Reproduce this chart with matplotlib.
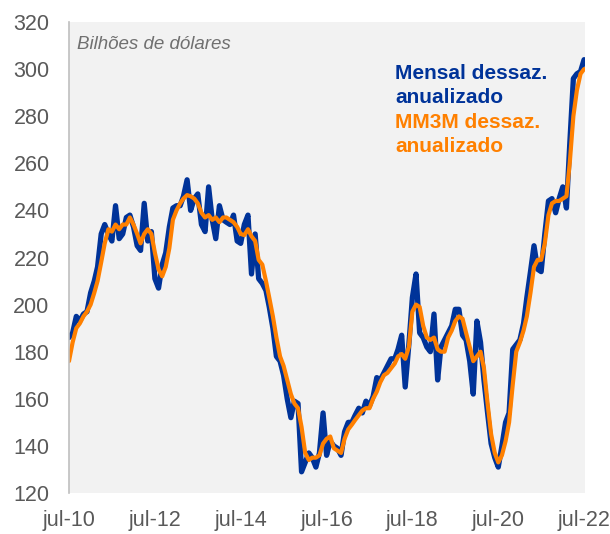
import numpy as np
import pandas as pd
import matplotlib
matplotlib.use("Agg")
import matplotlib.pyplot as plt

plt.rcParams['font.family'] = ['Liberation Sans', 'DejaVu Sans']

# monthly data, jul-2010 .. jul-2022 (billions of dollars, seasonally adjusted, annualized)
mensal = [
    186, 188, 195, 193, 196, 197, 205, 210, 216, 230, 234, 230,
    227, 242, 228, 230, 237, 238, 233, 225, 223, 243, 227, 231,
    211, 207, 217, 222, 233, 241, 242, 242, 246, 253, 240, 245,
    247, 234, 231, 250, 236, 228, 242, 236, 235, 234, 238, 227,
    226, 234, 238, 213, 230, 211, 209, 206, 199, 190, 178, 176,
    170, 160, 152, 159, 158, 129, 133, 137, 135, 131, 137, 154,
    136, 142, 140, 139, 136, 146, 150, 150, 153, 156, 154, 159,
    157, 161, 169, 168, 171, 174, 177, 177, 181, 187, 165, 183,
    203, 213, 188, 186, 182, 180, 196, 168, 182, 185, 188, 191,
    198, 198, 187, 185, 176, 162, 193, 184, 168, 154, 141, 135,
    131, 140, 150, 154, 181, 183, 185, 192, 203, 214, 225, 215,
    214, 230, 244, 245, 239, 245, 250, 241, 268, 296, 298, 299,
    304,
]
mm3m = [
    176, 184, 190, 192, 195, 197, 200, 205, 210, 218, 226, 232,
    231, 234, 232, 234, 234, 237, 234, 230, 226, 230, 232, 230,
    222, 215, 212, 216, 224, 236, 240, 243, 245, 246.5, 246, 245,
    243, 239, 237, 238, 236, 237, 235, 237, 237, 236, 235, 233,
    230, 229.5, 232, 229, 227, 219, 217, 210, 203, 195, 186, 178,
    174, 168, 162, 158, 156, 148, 137, 134, 135, 135, 136, 141,
    143, 144, 139, 138, 137, 143, 147, 149, 151, 153, 155, 156,
    156, 160, 163, 167, 170, 171, 173, 175, 178, 179, 177, 182,
    197, 200, 199, 191, 186, 185, 186, 181, 180, 180, 186, 189,
    193, 195, 194, 188, 182, 176, 178, 180, 173, 158, 145, 137,
    133, 136, 142, 150, 166, 180, 184, 189, 195, 205, 216, 219,
    219, 226, 238, 243, 244, 244, 245, 246, 260, 280, 291, 298,
    300,
]
months = pd.date_range('2010-07-01', periods=len(mensal), freq='MS')
tick_dates = pd.to_datetime(['2010-07-01', '2012-07-01', '2014-07-01', '2016-07-01',
                             '2018-07-01', '2020-07-01', '2022-07-01'])
tick_labels = ['jul-10', 'jul-12', 'jul-14', 'jul-16', 'jul-18', 'jul-20', 'jul-22']

blue = '#003399'
orange = '#FF8000'
grey_txt = '#595959'

fig = plt.figure(figsize=(6.10, 5.34), dpi=100)
ax = fig.add_axes([69 / 610, 1 - 493 / 534, 516 / 610, 471 / 534])
ax.set_facecolor('#F2F2F2')

ax.plot(months, mensal, color=blue, lw=3.8, solid_joinstyle='round', solid_capstyle='round')
ax.plot(months, mm3m, color=orange, lw=3.0, solid_joinstyle='round', solid_capstyle='round')

ax.set_xlim(months[0], months[-1] + pd.Timedelta(days=8))
ax.set_ylim(120, 320)
ax.set_yticks(np.arange(120, 321, 20))
ax.set_xticks(tick_dates)
ax.set_xticklabels(tick_labels)
ax.tick_params(axis='both', length=0, labelsize=15.5, labelcolor=grey_txt)
ax.tick_params(axis='y', pad=14)
ax.tick_params(axis='x', pad=12)

for side in ['top', 'right', 'bottom']:
    ax.spines[side].set_visible(False)
ax.spines['left'].set_color('#BFBFBF')
ax.spines['left'].set_linewidth(1.2)

ax.text(0.0155, 0.943, 'Bilhões de dólares', transform=ax.transAxes, fontsize=13.5,
        style='italic', color='#707070', va='baseline', ha='left')

leg_lines = [('Mensal dessaz.', blue, 0.878), ('anualizado', blue, 0.827),
             ('MM3M dessaz.', orange, 0.776), ('anualizado', orange, 0.725)]
for txt, col, yy in leg_lines:
    ax.text(0.632, yy, txt, transform=ax.transAxes, fontsize=15, fontweight='bold',
            color=col, va='baseline', ha='left')

fig.savefig('out.png', dpi=100)
